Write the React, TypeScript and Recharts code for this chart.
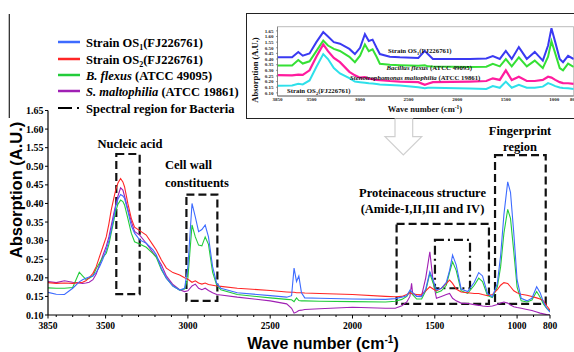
import React from 'react';
import { LineChart, Line, XAxis, YAxis, ReferenceArea } from 'recharts';

const SERIF = '"Liberation Serif", "Times New Roman", Times, serif';
const SANS = '"Liberation Sans", Arial, Helvetica, sans-serif';

// ---------- main spectrum ----------
const waveNumbers = [
  3850, 3800, 3750, 3700, 3660, 3640, 3620, 3600, 3577, 3557,
  3537, 3517, 3496, 3480, 3466, 3452, 3439, 3425, 3409, 3395,
  3385, 3365, 3344, 3324, 3293, 3253, 3212, 3192, 3161, 3131,
  3091, 3050, 3020, 3000, 2975, 2955, 2935, 2915, 2895, 2875,
  2850, 2825, 2800, 2700, 2500, 2400, 2370, 2355, 2340, 2326,
  2310, 2290, 2200, 2000, 1800, 1740, 1700, 1670, 1651, 1641,
  1635, 1610, 1580, 1555, 1530, 1510, 1490, 1460, 1430, 1410,
  1392, 1370, 1340, 1300, 1260, 1233, 1210, 1180, 1150, 1120,
  1100, 1080, 1057, 1040, 1020, 1000, 975, 940, 910, 881,
  860, 840, 820, 800,
];

const os1Values = [
  0.161, 0.156, 0.155, 0.172, 0.189, 0.195, 0.199, 0.202, 0.205, 0.215,
  0.230, 0.250, 0.275, 0.300, 0.328, 0.360, 0.391, 0.412, 0.424, 0.420,
  0.414, 0.380, 0.340, 0.320, 0.302, 0.293, 0.275, 0.262, 0.225, 0.199,
  0.178, 0.167, 0.172, 0.230, 0.400, 0.364, 0.324, 0.330, 0.342, 0.310,
  0.230, 0.185, 0.172, 0.160, 0.152, 0.148, 0.152, 0.226, 0.190, 0.205,
  0.160, 0.146, 0.145, 0.143, 0.142, 0.144, 0.148, 0.152, 0.167, 0.163,
  0.160, 0.150, 0.149, 0.170, 0.216, 0.195, 0.167, 0.172, 0.188, 0.220,
  0.261, 0.235, 0.170, 0.163, 0.188, 0.214, 0.205, 0.158, 0.149, 0.185,
  0.260, 0.370, 0.458, 0.430, 0.320, 0.195, 0.145, 0.138, 0.145, 0.176,
  0.160, 0.135, 0.118, 0.108,
];

const os2Values = [
  0.187, 0.185, 0.186, 0.185, 0.187, 0.188, 0.192, 0.200, 0.212, 0.230,
  0.257, 0.283, 0.310, 0.345, 0.382, 0.410, 0.436, 0.455, 0.467, 0.458,
  0.445, 0.400, 0.360, 0.336, 0.327, 0.315, 0.288, 0.275, 0.248, 0.226,
  0.214, 0.2075, 0.200, 0.196, 0.188, 0.192, 0.186, 0.183, 0.186, 0.182,
  0.180, 0.178, 0.177, 0.172, 0.166, 0.162, 0.161, 0.161, 0.160, 0.160,
  0.160, 0.159, 0.158, 0.155, 0.150, 0.149, 0.150, 0.155, 0.160, 0.158,
  0.157, 0.155, 0.156, 0.165, 0.176, 0.170, 0.165, 0.172, 0.185, 0.194,
  0.185, 0.170, 0.162, 0.160, 0.158, 0.158, 0.155, 0.152, 0.155, 0.168,
  0.180, 0.187, 0.185, 0.176, 0.165, 0.160, 0.156, 0.153, 0.150, 0.146,
  0.143, 0.138, 0.125, 0.113,
];

const flexusValues = [
  0.173, 0.172, 0.172, 0.174, 0.215, 0.205, 0.196, 0.199, 0.205, 0.225,
  0.240, 0.255, 0.266, 0.290, 0.320, 0.350, 0.378, 0.398, 0.409, 0.405,
  0.396, 0.360, 0.320, 0.297, 0.291, 0.282, 0.265, 0.255, 0.222, 0.199,
  0.178, 0.167, 0.170, 0.200, 0.342, 0.310, 0.288, 0.286, 0.310, 0.290,
  0.215, 0.180, 0.168, 0.155, 0.146, 0.142, 0.141, 0.136, 0.146, 0.139,
  0.138, 0.138, 0.137, 0.136, 0.135, 0.137, 0.142, 0.150, 0.163, 0.158,
  0.155, 0.143, 0.143, 0.165, 0.212, 0.185, 0.160, 0.165, 0.180, 0.215,
  0.243, 0.220, 0.165, 0.158, 0.180, 0.199, 0.190, 0.152, 0.147, 0.175,
  0.230, 0.320, 0.384, 0.360, 0.270, 0.175, 0.138, 0.135, 0.140, 0.163,
  0.148, 0.130, 0.118, 0.110,
];

const maltophiliaValues = [
  0.190, 0.187, 0.192, 0.188, 0.186, 0.185, 0.186, 0.188, 0.195, 0.210,
  0.235, 0.260, 0.285, 0.310, 0.340, 0.370, 0.395, 0.420, 0.442, 0.436,
  0.420, 0.385, 0.352, 0.325, 0.315, 0.293, 0.268, 0.258, 0.235, 0.205,
  0.182, 0.168, 0.163, 0.165, 0.178, 0.183, 0.172, 0.168, 0.172, 0.166,
  0.160, 0.155, 0.154, 0.148, 0.138, 0.130, 0.118, 0.105, 0.108, 0.112,
  0.113, 0.115, 0.117, 0.121, 0.118, 0.118, 0.125, 0.135, 0.150, 0.185,
  0.160, 0.150, 0.152, 0.200, 0.270, 0.190, 0.145, 0.150, 0.155, 0.158,
  0.145, 0.138, 0.132, 0.131, 0.128, 0.126, 0.124, 0.123, 0.124, 0.128,
  0.132, 0.135, 0.132, 0.127, 0.122, 0.120, 0.118, 0.115, 0.112, 0.108,
  0.105, 0.103, 0.101, 0.100,
];

// ---------- inset (stacked spectra) ----------
const insetWaveNumbers = [
  3850, 3700, 3636, 3590, 3520, 3450, 3379, 3330, 3270, 3207,
  3110, 3053, 3000, 2950, 2910, 2871, 2830, 2796, 2693, 2590,
  2400, 2333, 2302, 2250, 1870, 1700, 1633, 1561, 1499, 1438,
  1365, 1283, 1201, 1118, 1064, 1029, 990, 944, 910, 858,
  800,
];
const insetOs1 = [
  0.415, 0.415, 0.463, 0.430, 0.450, 0.550, 0.639, 0.600, 0.550, 0.536,
  0.490, 0.444, 0.500, 0.621, 0.560, 0.572, 0.500, 0.444, 0.420, 0.415,
  0.410, 0.472, 0.444, 0.401, 0.401, 0.405, 0.426, 0.401, 0.472, 0.401,
  0.506, 0.401, 0.463, 0.386, 0.520, 0.673, 0.550, 0.400, 0.372, 0.429,
  0.400,
];
const insetFlexus = [
  0.343, 0.343, 0.392, 0.360, 0.380, 0.470, 0.564, 0.520, 0.490, 0.472,
  0.420, 0.372, 0.430, 0.530, 0.470, 0.487, 0.420, 0.358, 0.349, 0.345,
  0.340, 0.345, 0.335, 0.333, 0.329, 0.332, 0.358, 0.335, 0.400, 0.335,
  0.415, 0.335, 0.386, 0.320, 0.420, 0.558, 0.450, 0.320, 0.300, 0.360,
  0.330,
];
const insetMaltophilia = [
  0.257, 0.255, 0.262, 0.260, 0.300, 0.420, 0.530, 0.470, 0.410, 0.372,
  0.286, 0.255, 0.235, 0.240, 0.225, 0.222, 0.215, 0.212, 0.205, 0.200,
  0.195, 0.171, 0.180, 0.195, 0.200, 0.205, 0.229, 0.215, 0.300, 0.214,
  0.243, 0.205, 0.205, 0.215, 0.243, 0.235, 0.215, 0.195, 0.186, 0.185,
  0.180,
];
const insetOs2 = [
  0.163, 0.165, 0.180, 0.175, 0.210, 0.330, 0.444, 0.400, 0.320, 0.272,
  0.230, 0.200, 0.195, 0.190, 0.185, 0.182, 0.178, 0.175, 0.170, 0.165,
  0.150, 0.140, 0.145, 0.145, 0.138, 0.134, 0.160, 0.145, 0.200, 0.145,
  0.171, 0.145, 0.145, 0.155, 0.186, 0.175, 0.160, 0.148, 0.143, 0.140,
  0.135,
];

// ---------- ticks ----------
const yTickValues = [0.1, 0.15, 0.2, 0.25, 0.3, 0.35, 0.4, 0.45, 0.5, 0.55, 0.6, 0.65];
const formatYTick = (v: number) => (v > 0.52 ? v + 1 : v).toFixed(2);
const xMajorTicks = [3850, 3500, 3000, 2500, 2000, 1500, 1000, 800];
const xMinorTicks = [
  3800, 3700, 3600, 3400, 3300, 3200, 3100, 2900, 2800, 2700, 2600, 2400, 2300, 2200,
  2100, 1900, 1800, 1700, 1600, 1400, 1300, 1200, 1100, 900,
];

// ---------- highlighted regions (data coordinates) ----------
const regions = [
  { name: 'nucleic', x1: 3435, x2: 3293, y1: 0.156, y2: 0.533, dash: '8 4' },
  { name: 'cellwall', x1: 3009, x2: 2821, y1: 0.138, y2: 0.424, dash: '8 4' },
  { name: 'protein', x1: 1732, x2: 1171, y1: 0.130, y2: 0.345, dash: '8 4' },
  { name: 'fingerprint', x1: 1134, x2: 826, y1: 0.130, y2: 0.530, dash: '8 4' },
  { name: 'bacteria', x1: 1499, x2: 1286, y1: 0.172, y2: 0.302, dash: '9 4 2 4' },
];

const C_BLUE = '#3d6bff';
const C_RED = '#ff2626';
const C_GREEN = '#22cc3a';
const C_PURPLE = '#a020b4';

const mainData = waveNumbers.map((w, i) => ({
  w,
  os1: os1Values[i],
  os2: os2Values[i],
  flexus: flexusValues[i],
  malto: maltophiliaValues[i],
}));

const insetData = insetWaveNumbers.map((w, i) => ({
  w,
  os1: insetOs1[i],
  flexus: insetFlexus[i],
  malto: insetMaltophilia[i],
  os2: insetOs2[i],
}));

const renderXTick = (props: any) => {
  const { x, y, payload } = props;
  const major = xMajorTicks.includes(payload.value);
  return (
    <g>
      <line x1={x} x2={x} y1={y} y2={y + (major ? 3.5 : 2)} stroke="#000" strokeWidth={1} />
      {major && (
        <text x={x} y={y + 14} textAnchor="middle" fontFamily={SERIF} fontWeight="bold" fontSize={9.5} fill="#000">
          {payload.value}
        </text>
      )}
    </g>
  );
};

const renderInsetXTick = (props: any) => {
  const { x, y, payload } = props;
  return (
    <text x={x} y={y + 5} textAnchor="middle" fontFamily={SERIF} fontWeight="bold" fontSize={5} fill="#222">
      {payload.value}
    </text>
  );
};

const boldSerif = { fontFamily: SERIF, fontWeight: 'bold' as const, fill: '#000' };

export default function App() {
  return (
    <div style={{ position: 'fixed', left: 0, top: 0, width: 574, height: 352, background: '#fff', overflow: 'hidden' }}>
      <div style={{ position: 'absolute', left: 0, top: 0 }}>
        <LineChart width={574} height={352} data={mainData} margin={{ top: 110.5, right: 24, bottom: 7, left: 0 }}>
          <XAxis
            type="number"
            dataKey="w"
            domain={[800, 3850]}
            reversed
            ticks={[...xMajorTicks, ...xMinorTicks]}
            interval={0}
            tick={renderXTick}
            tickLine={false}
            tickSize={0}
            tickMargin={0}
            axisLine={{ stroke: '#000', strokeWidth: 1.2 }}
            height={30}
            allowDataOverflow
          />
          <YAxis
            type="number"
            domain={[0.1, 0.65]}
            ticks={yTickValues}
            interval={0}
            tickFormatter={formatYTick}
            width={48}
            tickSize={3}
            tickMargin={1.5}
            tick={{ fontFamily: SERIF, fontWeight: 'bold', fontSize: 10, fill: '#000' }}
            tickLine={{ stroke: '#000' }}
            axisLine={{ stroke: '#000', strokeWidth: 1.2 }}
            allowDataOverflow
          />
          {regions.map((r) => (
            <ReferenceArea
              key={r.name}
              x1={r.x1}
              x2={r.x2}
              y1={r.y1}
              y2={r.y2}
              fill="none"
              fillOpacity={0}
              stroke="#111"
              strokeWidth={2.2}
              strokeDasharray={r.dash}
            />
          ))}
          <Line type="linear" dataKey="malto" stroke={C_PURPLE} strokeWidth={1.1} dot={false} isAnimationActive={false} />
          <Line type="linear" dataKey="flexus" stroke={C_GREEN} strokeWidth={1.1} dot={false} isAnimationActive={false} />
          <Line type="linear" dataKey="os2" stroke={C_RED} strokeWidth={1.1} dot={false} isAnimationActive={false} />
          <Line type="linear" dataKey="os1" stroke={C_BLUE} strokeWidth={1.1} dot={false} isAnimationActive={false} />
        </LineChart>
      </div>

      {/* inset box */}
      <div
        style={{
          position: 'absolute',
          left: 246,
          top: 13.3,
          width: 340,
          height: 105.5,
          border: '1.5px solid #222',
          boxSizing: 'border-box',
          background: '#fff',
        }}
      />
      <div style={{ position: 'absolute', left: 246, top: 14 }}>
        <LineChart width={328} height={104} data={insetData} margin={{ top: 12.7, right: 0.3, bottom: 4, left: 0 }}>
          <XAxis
            type="number"
            dataKey="w"
            domain={[800, 3850]}
            reversed
            ticks={xMajorTicks}
            interval={0}
            tick={renderInsetXTick}
            tickLine={false}
            tickSize={0}
            tickMargin={0}
            axisLine={{ stroke: '#555', strokeWidth: 0.8 }}
            height={18}
            allowDataOverflow
          />
          <YAxis
            type="number"
            domain={[0.072, 0.687]}
            ticks={yTickValues}
            interval={0}
            tickFormatter={formatYTick}
            width={31.5}
            tickSize={1.5}
            tickMargin={2.5}
            tick={{ fontFamily: SERIF, fontWeight: 'bold', fontSize: 5, fill: '#222' }}
            tickLine={{ stroke: '#555', strokeWidth: 0.6 }}
            axisLine={{ stroke: '#777', strokeWidth: 0.8 }}
            allowDataOverflow
          />
          <ReferenceArea x1={3850} x2={800} y1={0.072} y2={0.687} fill="none" fillOpacity={0} stroke="#aaa" strokeWidth={0.8} />
          <Line type="linear" dataKey="os2" stroke="#2ee0ea" strokeWidth={2} dot={false} isAnimationActive={false} />
          <Line type="linear" dataKey="malto" stroke="#ff1c9e" strokeWidth={2.2} dot={false} isAnimationActive={false} />
          <Line type="linear" dataKey="flexus" stroke="#35e035" strokeWidth={2} dot={false} isAnimationActive={false} />
          <Line type="linear" dataKey="os1" stroke="#3a3af2" strokeWidth={2} dot={false} isAnimationActive={false} />
        </LineChart>
      </div>

      {/* overlay: legend, annotations, titles */}
      <svg width={574} height={352} style={{ position: 'absolute', left: 0, top: 0, pointerEvents: 'none' }}>
        {/* left frame remnant */}
        <line x1={9.3} x2={9.3} y1={14} y2={118} stroke="#222" strokeWidth={1.2} />

        {/* legend */}
        <g fontFamily={SERIF} fontWeight="bold" fontSize={12.5} fill="#000">
          <line x1={58} x2={80} y1={42} y2={42} stroke={C_BLUE} strokeWidth={2.5} />
          <text x={86} y={46.5}>
            Strain OS<tspan fontSize={8} dy={3}>1</tspan>
            <tspan dy={-3}>(FJ226761)</tspan>
          </text>
          <line x1={58} x2={80} y1={59} y2={59} stroke={C_RED} strokeWidth={2.5} />
          <text x={86} y={63.5}>
            Strain OS<tspan fontSize={8} dy={3}>2</tspan>
            <tspan dy={-3}>(FJ226761)</tspan>
          </text>
          <line x1={58} x2={80} y1={75} y2={75} stroke={C_GREEN} strokeWidth={2.5} />
          <text x={86} y={79.5}>
            <tspan fontStyle="italic">B. flexus</tspan> (ATCC 49095)
          </text>
          <line x1={58} x2={80} y1={91} y2={91} stroke={C_PURPLE} strokeWidth={2.5} />
          <text x={86} y={95.5}>
            <tspan fontStyle="italic">S. maltophilia</tspan> (ATCC 19861)
          </text>
          <line x1={58} x2={72} y1={108} y2={108} stroke="#000" strokeWidth={2} />
          <line x1={77} x2={79} y1={108} y2={108} stroke="#000" strokeWidth={2} />
          <text x={86} y={112.5}>Spectral region for Bacteria</text>
        </g>

        {/* region labels */}
        <g {...boldSerif} fontSize={12.5}>
          <text x={130} y={148} textAnchor="middle">Nucleic acid</text>
          <text x={165} y={168.5}>Cell wall</text>
          <text x={165} y={186.7}>constituents</text>
          <text x={422.5} y={197.3} textAnchor="middle">Proteinaceous structure</text>
          <text x={422.5} y={213.3} textAnchor="middle">(Amide-I,II,III and IV)</text>
          <text x={520} y={135} textAnchor="middle">Fingerprint</text>
          <text x={520} y={151} textAnchor="middle">region</text>
        </g>

        {/* axis titles */}
        <text
          transform="translate(22,190) rotate(-90)"
          textAnchor="middle"
          fontFamily={SANS}
          fontWeight="bold"
          fontSize={16.5}
          fill="#000"
        >
          Absorption (A.U.)
        </text>
        <text x={323} y={349} textAnchor="middle" fontFamily={SANS} fontWeight="bold" fontSize={16} fill="#000">
          Wave number (cm<tspan fontSize={10} dy={-6}>-1</tspan>
          <tspan dy={6}>)</tspan>
        </text>

        {/* arrow below inset */}
        <polyline
          points="395,118.5 395,136.7 385,136.7 403.3,155 421.7,136.7 412.7,136.7 412.7,118.5"
          fill="#fff"
          stroke="#cfcfcf"
          strokeWidth={1.2}
        />

        {/* inset labels */}
        <g {...boldSerif} fontSize={6.8} fill="#111">
          <text x={388} y={53}>
            Strain OS<tspan fontSize={4.5} dy={1.5}>1</tspan>
            <tspan dy={-1.5}>(FJ226761)</tspan>
          </text>
          <text x={386.5} y={70}>
            <tspan fontStyle="italic">Bacillus flexus</tspan> (ATCC 49095)
          </text>
          <text x={350} y={79.5}>
            <tspan fontStyle="italic">Stenotrophomonas maltophilia</tspan> (ATCC 19861)
          </text>
          <text x={287} y={93}>
            Strain OS<tspan fontSize={4.5} dy={1.5}>2</tspan>
            <tspan dy={-1.5}>(FJ226761)</tspan>
          </text>
        </g>
        <text
          transform="translate(258,70) rotate(-90)"
          textAnchor="middle"
          fontFamily={SERIF}
          fontWeight="bold"
          fontSize={8.5}
          fill="#111"
        >
          Absorption (A.U.)
        </text>
        <text x={425} y={112} textAnchor="middle" fontFamily={SERIF} fontWeight="bold" fontSize={8.5} fill="#111">
          Wave number (cm<tspan fontSize={5.5} dy={-3}>-1</tspan>
          <tspan dy={3}>)</tspan>
        </text>
      </svg>
    </div>
  );
}
